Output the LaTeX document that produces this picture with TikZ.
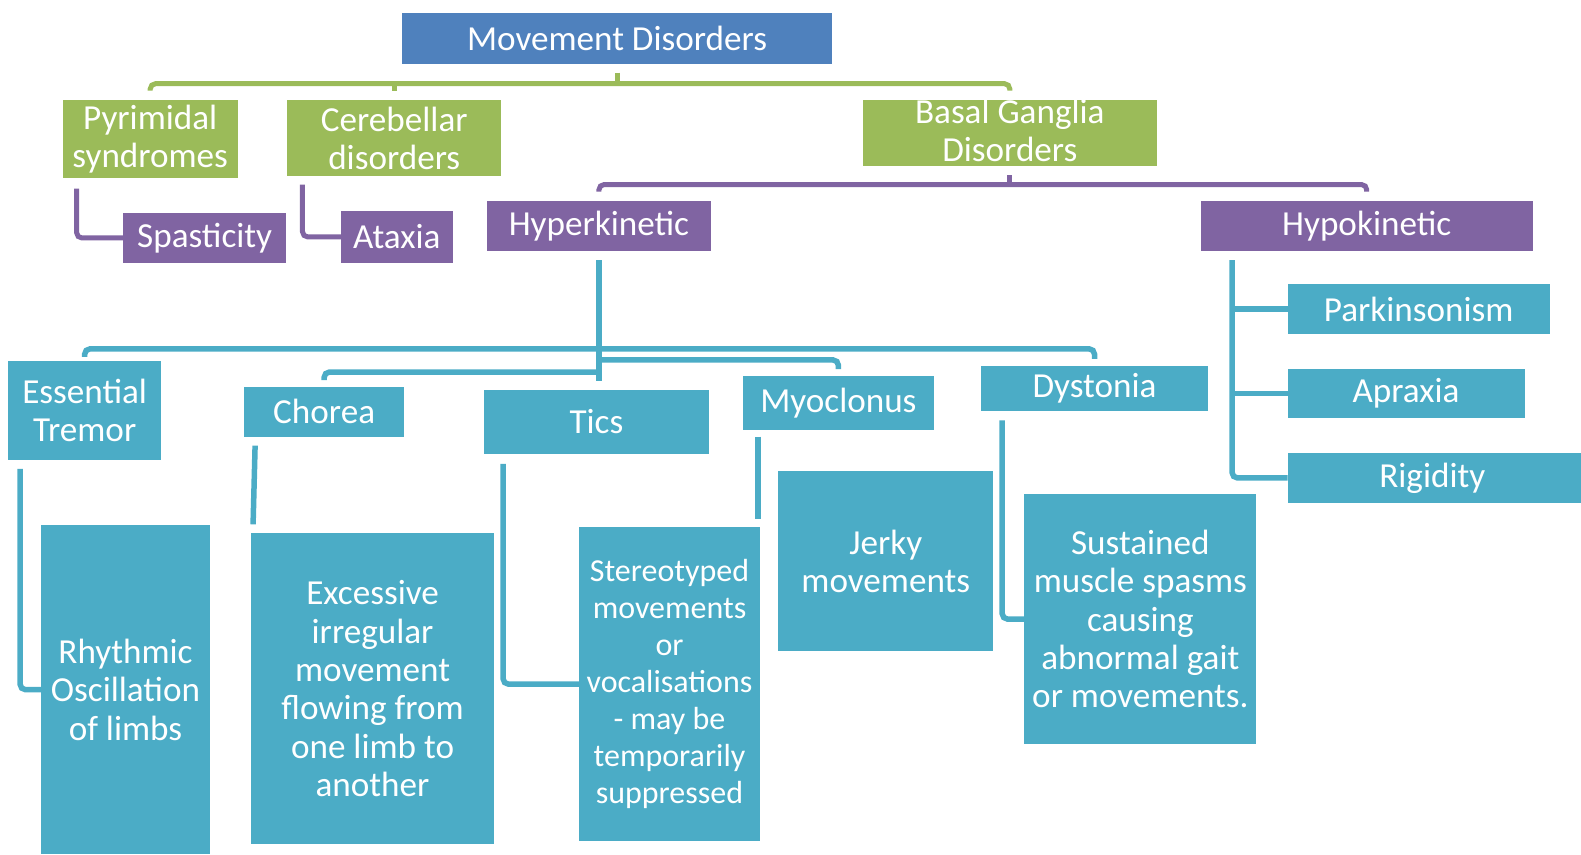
\documentclass[tikz,border=0pt]{standalone}
\usepackage{fontspec}
\setmainfont{Carlito}
\usetikzlibrary{fit}
\definecolor{mdblue}{HTML}{4F81BD}
\definecolor{mdgreen}{HTML}{9BBB59}
\definecolor{mdpurple}{HTML}{8064A2}
\definecolor{mdteal}{HTML}{4BACC6}
\begin{document}
\begin{tikzpicture}[x=0.10083mm, y=-0.10083mm, font=\fontsize{10}{10.9}\selectfont, every node/.style={inner sep=0pt, outer sep=0pt, text=white, align=center}, box/.style={fill=#1}, gline/.style={draw=mdgreen, line width=0.5mm, rounded corners=1.5pt}, pline/.style={draw=mdpurple, line width=0.5mm, rounded corners=1.5pt}, tline/.style={draw=mdteal, line width=0.55mm, rounded corners=1.5pt}, small/.style={font=\fontsize{9.1}{10.5}\selectfont}]
        \clip (0,0) rectangle (1568,847);

        % Top level
        \node[box=mdblue, fit={(399,13) (825,63)}, label=center:Movement Disorders] (root) {};
        \node[box=mdgreen, fit={(62,99) (236,177)}, label=center:Pyrimidal\\syndromes] (pyr) {};
        \node[box=mdgreen, fit={(285,99) (497,175)}, label=center:Cerebellar\\disorders] (cer) {};
        \node[box=mdgreen, fit={(856,99) (1147,165)}, label={[yshift=0.3mm]center:Basal Ganglia\\Disorders}] (bg) {};
        \draw[gline] (root.south |- 0,72) -- (root.south |- 0,83);
        \draw[gline] (pyr.north |- 0,90) -- (pyr.north |- 0,83) -| (bg.north |- 0,90);
        \draw[gline] (cer.north |- 0,83) -- (cer.north |- 0,90);

        % Second level
        \node[box=mdpurple, fit={(122,211) (284,261)}, label=center:Spasticity] (spas) {};
        \node[box=mdpurple, fit={(338,209) (449,261)}, label=center:Ataxia] (atax) {};
        \node[box=mdpurple, fit={(483,199) (705,249)}, label=center:Hyperkinetic] (hyper) {};
        \node[box=mdpurple, fit={(1191,199) (1520,249)}, label=center:Hypokinetic] (hypo) {};
        \draw[pline] (pyr.south west) ++(14,10) |- (spas);
        \draw[pline] (cer.south west) ++(15,8) |- (atax);
        \draw[pline] (bg.south |- 0,174) -- (bg.south |- 0,183);
        \draw[pline] (hyper.north |- 0,190) -- (hyper.north |- 0,183) -| (hypo.north |- 0,190);

        % Hypokinetic
        \node[box=mdteal, fit={(1277,282) (1537,331)}, label=center:Parkinsonism] (park) {};
        \node[box=mdteal, fit={(1277,366) (1512,415)}, label=center:Apraxia] (aprax) {};
        \node[box=mdteal, fit={(1277,449) (1568,499)}, label={[xshift=-0.2mm]center:Rigidity}] (rigid) {};
        \draw[tline] (hypo.south west) ++(31,9) |- (rigid);
        \draw[tline] (park.west -| 1222,0) -- (park);
        \draw[tline] (aprax.west -| 1222,0) -- (aprax);

        % Hyperkinetic
        \node[box=mdteal, fit={(8,358) (160,456)}, label=center:Essential\\Tremor] (tremor) {};
        \node[box=mdteal, fit={(242,384) (401,433)}, label=center:Chorea] (chorea) {};
        \node[box=mdteal, fit={(480,387) (703,450)}, label=center:Tics] (tics) {};
        \node[box=mdteal, fit={(737,373) (926,426)}, label=center:Myoclonus] (myo) {};
        \node[box=mdteal, fit={(973,363) (1198,408)}, label=center:Dystonia] (dyst) {};
        \draw[tline] (hyper.south) ++(0,9) -- ++(0,120);
        \draw[tline] (tremor.north |- 0,354) -- (tremor.north |- 0,346) -| (dyst.north |- 0,356);
        \draw[tline] (chorea.north |- 0,377) -- (chorea.north |- 0,369) -- (hyper.south |- 0,369);
        \draw[tline] (hyper.south |- 0,357) -| (myo.north |- 0,366);

        % Descriptions
        \node[box=mdteal, fit={(41,521) (208,847)}, label=center:Rhythmic\\Oscillation\\of limbs] (rhythm) {};
        \node[box=mdteal, fit={(249,529) (490,837)}, label=center:Excessive\\irregular\\movement\\flowing from\\one limb to\\another] (excess) {};
        \node[box=mdteal, fit={(574,523) (754,834)}, label={[small]center:Stereotyped\\movements\\or\\vocalisations\\- may be\\temporarily\\suppressed}] (stereo) {};
        \node[box=mdteal, fit={(772,467) (985,646)}, label=center:Jerky\\movements] (jerky) {};
        \node[box=mdteal, fit={(1016,490) (1246,738)}, label=center:Sustained\\muscle spasms\\causing\\abnormal gait\\or movements.] (sust) {};
        \draw[tline] (tremor.south west) ++(12,9) |- (rhythm);
        \draw[tline] (chorea.south west) ++(11,9) -- ++(-2,78);
        \draw[tline] (tics.south west) ++(19,10) |- (stereo);
        \draw[tline] (myo.south west) ++(15,7) -- ++(0,82);
        \draw[tline] (dyst.south west) ++(21,9) |- (sust);
    \end{tikzpicture}
\end{document}
